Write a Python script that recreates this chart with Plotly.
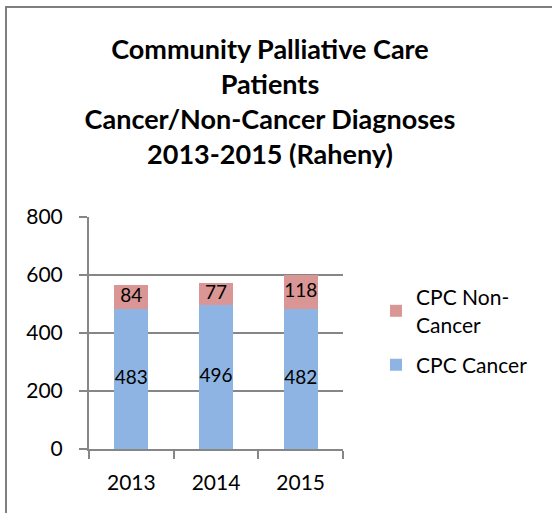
import plotly.graph_objects as go

years = ["2013", "2014", "2015"]
cancer = [483, 496, 482]
non_cancer = [84, 77, 118]
y_ticks = [0, 200, 400, 600, 800]

W, H = 552, 513
L, R, T, B = 89, 343, 217, 449  # plot area in px

def px_x(p):
    return (p - L) / (R - L)

def px_y(p):
    return (B - p) / (B - T)

FONT = "Lato"
GRID = "#868686"

fig = go.Figure()
fig.add_trace(go.Bar(
    x=years, y=cancer, name="CPC Cancer", legendgroup="a", legendrank=2,
    marker=dict(color="#8EB4E3", line=dict(width=0)),
    hoverinfo="skip",
))
fig.add_trace(go.Bar(
    x=years, y=non_cancer, name="CPC Non-<br>Cancer", legendgroup="b", legendrank=1,
    marker=dict(color="#D99694", line=dict(width=0)),
    hoverinfo="skip",
))
# value labels at the middle of each segment
label_x = years + years
label_y = [c / 2 for c in cancer] + [c + n / 2 for c, n in zip(cancer, non_cancer)]
label_t = [str(v) for v in cancer] + [str(v) for v in non_cancer]
fig.add_trace(go.Scatter(
    x=label_x, y=label_y, text=label_t, mode="text",
    textposition="middle center", showlegend=False, hoverinfo="skip",
    textfont=dict(family=FONT, size=19, color="black"),
))

fig.update_layout(
    width=W, height=H,
    barmode="stack", bargap=0.6,
    plot_bgcolor="white", paper_bgcolor="white",
    margin=dict(l=L, r=W - R, t=T, b=H - B, pad=0),
    font=dict(family=FONT, size=21, color="black"),
    title=dict(
        text="<b>Community Palliative Care<br>Patients<br>Cancer/Non-Cancer Diagnoses<br>2013-2015 (Raheny)</b>",
        x=270 / W, xanchor="center", xref="container",
        y=1 - 59 / H, yanchor="top", yref="container",
        font=dict(family=FONT, size=27, color="black"),
    ),
    showlegend=True,
    legend=dict(
        x=px_x(376), y=px_y(277), xanchor="left", yanchor="top",
        traceorder="grouped", tracegroupgap=10,
        font=dict(family=FONT, size=21),
        bgcolor="rgba(0,0,0,0)", itemwidth=30,
    ),
    xaxis=dict(
        showline=True, linecolor=GRID, linewidth=2,
        ticks="outside", tickson="boundaries", ticklen=8, tickcolor=GRID, tickwidth=2,
        showgrid=False, tickfont=dict(family=FONT, size=21),
        ticklabelstandoff=14,
    ),
    yaxis=dict(
        range=[0, 800], tickvals=y_ticks, ticktext=[str(v) for v in y_ticks],
        showline=True, linecolor=GRID, linewidth=2,
        ticks="outside", ticklen=8, tickcolor=GRID, tickwidth=2,
        showgrid=True, gridcolor=GRID, gridwidth=2, zeroline=False,
        tickfont=dict(family=FONT, size=21), ticklabelstandoff=12,
    ),
    shapes=[
        dict(type="line", xref="paper", yref="paper", layer="above",
             x0=px_x(5), x1=px_x(W), y0=px_y(7), y1=px_y(7),
             line=dict(color="#7F7F7F", width=2)),
        dict(type="line", xref="paper", yref="paper", layer="above",
             x0=px_x(6), x1=px_x(6), y0=px_y(6), y1=px_y(H),
             line=dict(color="#7F7F7F", width=2)),
    ],
)

fig.write_html(
    "out.html",
    config={"displayModeBar": False},
    post_script="document.body.style.margin='0';document.body.style.overflow='hidden';",
)
